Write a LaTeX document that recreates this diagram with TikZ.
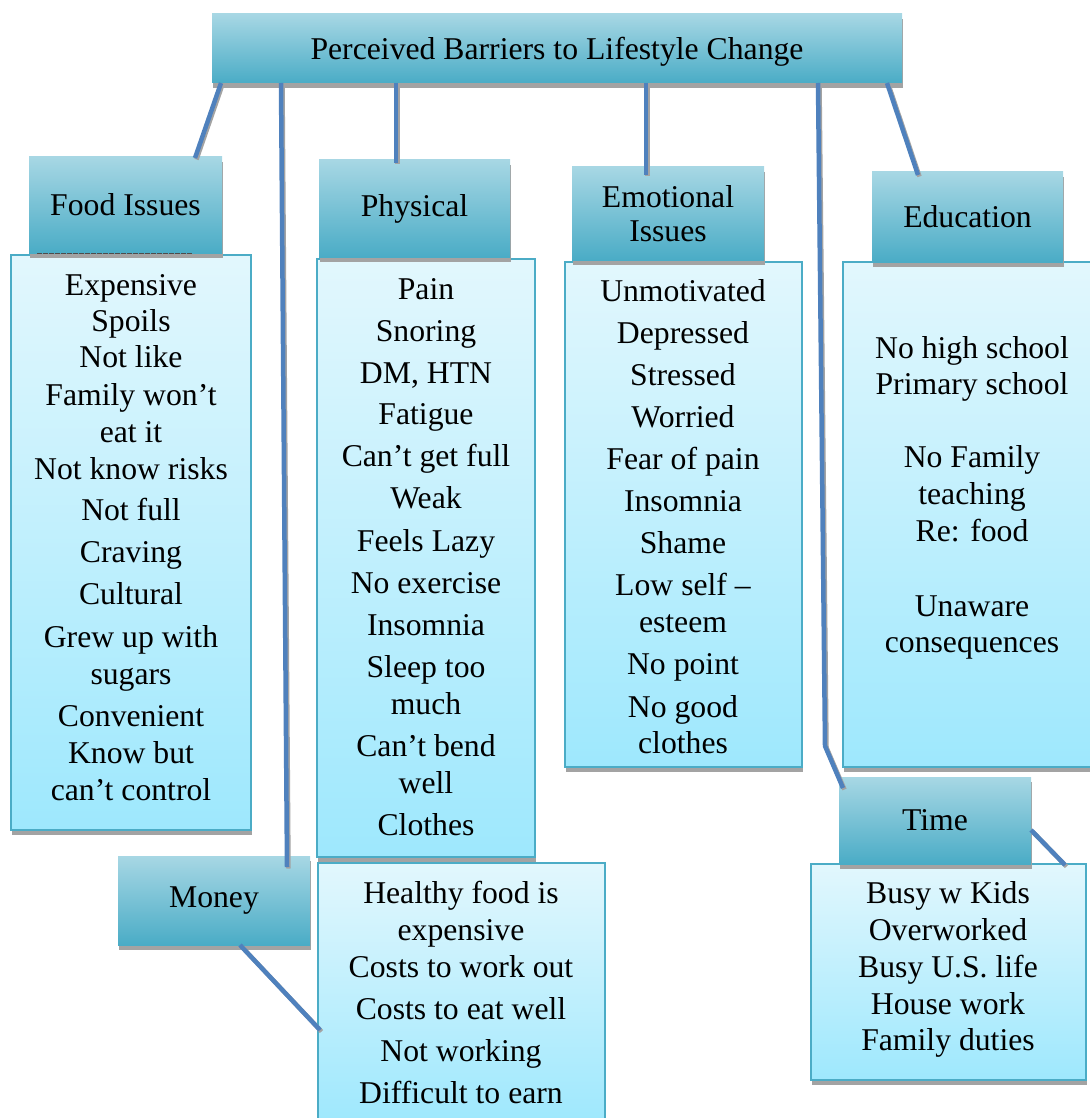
\documentclass[tikz,border=0pt]{standalone}
\usepackage{fontspec}
\setmainfont{Liberation Serif}
\definecolor{hdtop}{HTML}{A7D7E4}
\definecolor{hdbot}{HTML}{4AACC6}
\definecolor{bxtop}{HTML}{E2F7FD}
\definecolor{bxbot}{HTML}{9EE8FD}
\definecolor{bxline}{HTML}{4BACC6}
\definecolor{linkc}{HTML}{4F81BD}
\definecolor{shad}{HTML}{A3A3A3}
\tikzset{
  shadowed/.style={preaction={fill=shad, transform canvas={xshift=0.5pt,yshift=-5pt}}},
  hdr/.style={rectangle, inner sep=0pt, outer sep=0pt, top color=hdtop, bottom color=hdbot, shadowed,
    font=\fontsize{31.7}{36}\selectfont, align=center},
  cbox/.style={rectangle, inner sep=0pt, outer sep=0pt, top color=bxtop, bottom color=bxbot, draw=bxline, line width=1.6pt, shadowed},
  txt/.style={anchor=base, inner sep=0pt, font=\fontsize{31.7}{36}\selectfont},
  conn/.style={draw=linkc, line width=4.5pt,
    preaction={draw=shad, line width=4.5pt, transform canvas={xshift=1.5pt,yshift=-1.5pt}}},
}
\begin{document}
\begin{tikzpicture}[x=1pt,y=-1pt]
\useasboundingbox (0,0) rectangle (1089,1118);
% header boxes and content boxes
\node[hdr, minimum width=690pt, minimum height=69pt, text depth=0pt, text height=22pt] (title) at (557,48.5) {Perceived Barriers to Lifestyle Change};
\node[cbox, minimum width=240pt, minimum height=575pt] (foodbox) at (131,542.5) {};
\node[hdr, minimum width=193pt, minimum height=96pt] (foodhdr) at (125.5,205) {Food Issues};
\draw[black!70, line width=0.8pt, dash pattern=on 5pt off 1pt] (37,253) -- (192,253);
\node[cbox, minimum width=218pt, minimum height=598pt] (physbox) at (426,558) {};
\node[hdr, minimum width=191pt, minimum height=97pt] (physhdr) at (414.5,208.5) {Physical};
\node[cbox, minimum width=237pt, minimum height=505pt] (emobox) at (683.5,514.5) {};
\node[hdr, minimum width=192pt, minimum height=93pt] (emohdr) at (668,213.5) {Emotional\\[-2pt]Issues};
\node[cbox, minimum width=249pt, minimum height=505pt] (edubox) at (967.5,514.5) {};
\node[hdr, minimum width=191pt, minimum height=90pt] (eduhdr) at (967.5,217) {Education};
\node[cbox, minimum width=275pt, minimum height=216pt] (timebox) at (948.5,972) {};
\node[hdr, minimum width=192pt, minimum height=87pt] (timehdr) at (935,820.5) {Time};
\node[cbox, minimum width=287pt, minimum height=262pt] (moneybox) at (461.5,994) {};
\node[hdr, minimum width=192pt, minimum height=89pt] (moneyhdr) at (214,900.5) {Money};
% texts
\foreach \t/\y [count=\i] in {Expensive/285, Spoils/321, Not like/357, Family won’t/395, eat it/432, Not know risks/469, Not full/510, Craving/552, Cultural/594, Grew up with/637, sugars/674, Convenient/716, Know but/753, can’t control/790}
  \node[txt] (fd\i) at (131,\y+10) {\t};
\foreach \t/\y [count=\i] in {Pain/289, Snoring/331, {DM, HTN}/373, Fatigue/414, Can’t get full/456, Weak/498, Feels Lazy/541, No exercise/583, Insomnia/625, Sleep too/667, much/704, Can’t bend/746, well/783, Clothes/825}
  \node[txt] (ph\i) at (426,\y+10) {\t};
\foreach \t/\y [count=\i] in {Unmotivated/291, Depressed/333, Stressed/375, Worried/417, Fear of pain/459, Insomnia/501, Shame/543, Low self –/585, esteem/622, No point/664, No good/707, clothes/743}
  \node[txt] (em\i) at (683,\y+10) {\t};
\foreach \t/\y [count=\i] in {No high school/348, Primary school/384, No Family/457, teaching/494, Re: food/531, Unaware/606, consequences/642}
  \node[txt] (ed\i) at (972,\y+10) {\t};
\foreach \t/\y [count=\i] in {Busy w Kids/893, Overworked/930, Busy U.S. life/967, House work/1004, Family duties/1040}
  \node[txt] (tm\i) at (948,\y+10) {\t};
\foreach \t/\y [count=\i] in {Healthy food is/893, expensive/930, Costs to work out/967, Costs to eat well/1009, Not working/1051, Difficult to earn/1093}
  \node[txt] (mn\i) at (461,\y+10) {\t};
% connector end points
\coordinate (c1a) at (221,83);  \coordinate (c1b) at (195,158);
\coordinate (c2a) at (281,83);  \coordinate (c2b) at (287,867);
\coordinate (c3a) at (396,83);  \coordinate (c3b) at (396,163);
\coordinate (c4a) at (646,83);  \coordinate (c4b) at (646,175);
\coordinate (c5a) at (818,83);  \coordinate (c5m) at (825,746); \coordinate (c5b) at (843,788);
\coordinate (c6a) at (887,83);  \coordinate (c6b) at (918,175);
\coordinate (c7a) at (1031,830); \coordinate (c7b) at (1065,865);
\coordinate (c8a) at (240,945); \coordinate (c8b) at (320,1030);
\draw[conn] (c1a) -- (c1b);
\draw[conn] (c2a) -- (c2b);
\draw[conn] (c3a) -- (c3b);
\draw[conn] (c4a) -- (c4b);
\draw[conn] (c5a) -- (c5m) -- (c5b);
\draw[conn] (c6a) -- (c6b);
\draw[conn] (c7a) -- (c7b);
\draw[conn] (c8a) -- (c8b);
\end{tikzpicture}
\end{document}
